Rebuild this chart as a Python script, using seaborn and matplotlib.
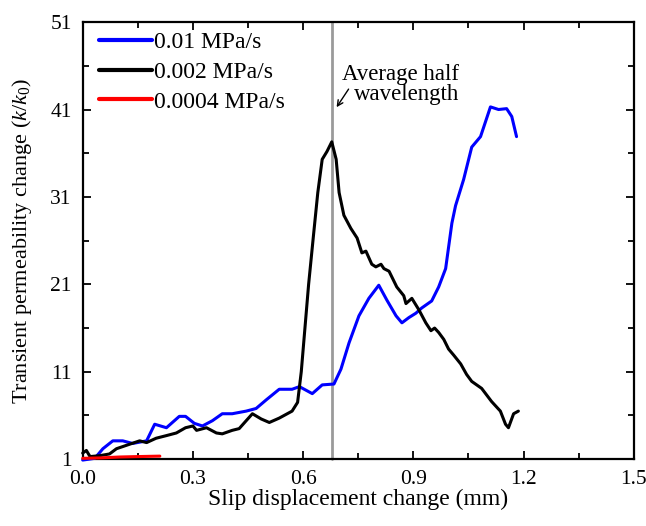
import numpy as np
import pandas as pd
import seaborn as sns
import matplotlib.pyplot as plt
from matplotlib.ticker import MultipleLocator

# 0.01 MPa/s
x_fast = [0, 0.033, 0.055, 0.082, 0.109, 0.136, 0.174, 0.196, 0.228, 0.263, 0.28, 0.304,
          0.326, 0.353, 0.38, 0.407, 0.445, 0.472, 0.5, 0.535, 0.57, 0.59, 0.625, 0.652,
          0.684, 0.703, 0.725, 0.752, 0.779, 0.806, 0.828, 0.853, 0.869, 0.888, 0.907,
          0.923, 0.95, 0.969, 0.988, 1.005, 1.015, 1.037, 1.059, 1.083, 1.11, 1.132,
          1.154, 1.168, 1.181]
y_fast = [0.9, 1.1, 2.2, 3.1, 3.1, 2.8, 3.1, 5.0, 4.6, 5.9, 5.9, 5.1,
          4.8, 5.4, 6.2, 6.2, 6.5, 6.8, 7.8, 9.0, 9.0, 9.3, 8.5, 9.5,
          9.6, 11.3, 14.3, 17.4, 19.4, 20.9, 19.2, 17.4, 16.6, 17.2, 17.7,
          18.3, 19.1, 20.7, 22.8, 28.0, 30.0, 33.0, 36.7, 37.9, 41.3, 41.0,
          41.1, 40.2, 37.9]

# 0.002 MPa/s
x_mid = [0, 0.01, 0.02, 0.046, 0.073, 0.092, 0.12, 0.155, 0.174, 0.2, 0.228, 0.255,
         0.28, 0.3, 0.31, 0.337, 0.364, 0.38, 0.407, 0.426, 0.445, 0.462, 0.486, 0.508,
         0.535, 0.57, 0.585, 0.595, 0.605, 0.615, 0.628, 0.64, 0.652, 0.665, 0.678,
         0.69, 0.698, 0.711, 0.73, 0.747, 0.76, 0.771, 0.787, 0.798, 0.812, 0.82,
         0.834, 0.855, 0.874, 0.88, 0.896, 0.915, 0.934, 0.948, 0.958, 0.969, 0.983,
         0.996, 1.01, 1.029, 1.045, 1.059, 1.086, 1.113, 1.137, 1.151, 1.159, 1.173, 1.186]
y_mid = [1.7, 2.0, 1.3, 1.4, 1.6, 2.2, 2.6, 3.1, 2.9, 3.4, 3.7, 4.0,
         4.6, 4.8, 4.3, 4.6, 4.0, 3.9, 4.3, 4.5, 5.4, 6.2, 5.6, 5.2,
         5.7, 6.5, 7.5, 11.0, 16.0, 21.0, 26.5, 31.5, 35.3, 36.2, 37.3,
         35.3, 31.5, 28.9, 27.4, 26.3, 24.6, 24.8, 23.3, 23.0, 23.3, 22.8,
         22.5, 20.7, 19.7, 18.8, 19.4, 18.1, 16.6, 15.7, 16.0, 15.5, 14.7,
         13.6, 12.9, 11.9, 10.7, 9.9, 9.1, 7.6, 6.5, 5.0, 4.6, 6.2, 6.5]

# 0.0004 MPa/s
x_slow = [0, 0.05, 0.1, 0.15, 0.21]
y_slow = [1.1, 1.15, 1.25, 1.3, 1.35]

labels = ["0.01 MPa/s", "0.002 MPa/s", "0.0004 MPa/s"]
colors = ["#0000ff", "#000000", "#ff0000"]
half_wavelength = 0.68
y_ticks = [1, 11, 21, 31, 41, 51]

df = pd.concat([
    pd.DataFrame({"x": x_fast, "y": y_fast, "rate": labels[0]}),
    pd.DataFrame({"x": x_mid, "y": y_mid, "rate": labels[1]}),
    pd.DataFrame({"x": x_slow, "y": y_slow, "rate": labels[2]}),
])

sns.set_style("ticks", {"axes.edgecolor": "black", "text.color": "black",
                        "axes.labelcolor": "black", "xtick.color": "black",
                        "ytick.color": "black"})
plt.rcParams["font.family"] = ["Liberation Serif", "DejaVu Serif"]
plt.rcParams["mathtext.fontset"] = "custom"
plt.rcParams["mathtext.rm"] = "Liberation Serif"
plt.rcParams["mathtext.it"] = "Liberation Serif:italic"

fig = plt.figure(figsize=(6.46, 5.26), dpi=100)
ax = fig.add_axes([0.128, 0.127, 0.853, 0.831])

ax.axvline(half_wavelength, color="#9a9a9a", lw=2, zorder=1)

sns.lineplot(data=df, x="x", y="y", hue="rate", palette=colors, sort=False,
             estimator=None, lw=2.2, ax=ax, zorder=3)
for l in ax.lines:
    l.set_clip_on(False)

ax.set_xlim(0, 1.5)
ax.set_ylim(1, 51)
ax.xaxis.set_major_locator(MultipleLocator(0.3))
ax.xaxis.set_minor_locator(MultipleLocator(0.15))
ax.set_yticks(y_ticks)
ax.set_yticks([t + 5 for t in y_ticks[:-1]], minor=True)
ax.set_xticklabels([f"{v:.1f}" for v in ax.get_xticks()])
ax.tick_params(which="both", direction="in", top=True, right=True, width=1.3,
               labelsize=15.5, colors="black")
ax.tick_params(which="major", length=6, pad=8)
ax.tick_params(which="minor", length=4)
for s in ax.spines.values():
    s.set_linewidth(1.6)
    s.set_color("black")

ax.set_xlabel("Slip displacement change (mm)", fontsize=17, labelpad=0, color="black")
ax.set_ylabel(r"Transient permeability change ($\mathit{k}/\mathit{k}_0$)", fontsize=16,
              labelpad=12, color="black")

leg = ax.legend(loc="upper left", frameon=False, fontsize=17, handlelength=2.25,
                handletextpad=0.1, borderaxespad=0.0, labelspacing=0.35,
                bbox_to_anchor=(0.012, 1.0))
for h in leg.get_lines():
    h.set_linewidth(3)
for t in leg.get_texts():
    t.set_color("black")

ax.text(0.706, 45.0, "Average half", fontsize=16.5, va="center", ha="left", color="black")
ax.text(0.739, 42.7, "wavelength", fontsize=16.5, va="center", ha="left", color="black")
ax.annotate("", xy=(0.687, 41.0), xytext=(0.728, 43.6),
            arrowprops=dict(arrowstyle="->", color="black", lw=1))

fig.savefig("out.png", dpi=100)
